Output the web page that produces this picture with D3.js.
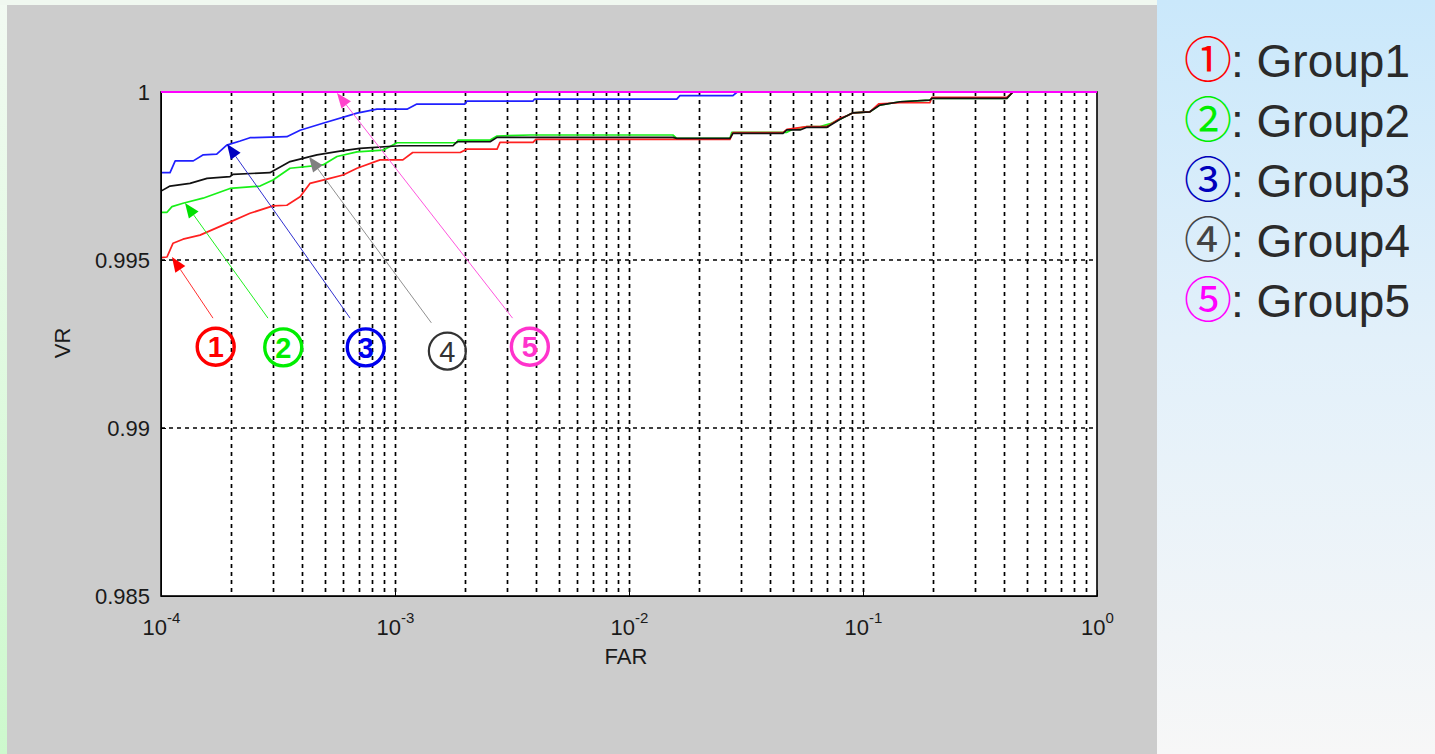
<!DOCTYPE html>
<html><head><meta charset="utf-8">
<script src="https://cdn.jsdelivr.net/npm/d3@7"></script>
<style>html,body{margin:0;padding:0;overflow:hidden;background:#eef9ec;} svg{display:block}</style>
</head><body><svg id="c" width="1435" height="754"></svg>
<script>
// ---------------- DATA ----------------
const groupNames = ["Group1","Group2","Group3","Group4","Group5"];
const circledDigits = ["①","②","③","④","⑤"];
const yTickValues = [0.985, 0.99, 0.995, 1];
const yTickLabels = ["0.985","0.99","0.995","1"];
const xDecades = [1e-4, 1e-3, 1e-2, 1e-1, 1];
const xExponents = ["-4","-3","-2","-1","0"];

// [FAR, VR]
const group1 = [[1e-4,0.99507],[1.061e-4,0.99509],[1.126e-4,0.9955],[1.242e-4,0.99562],[1.468e-4,0.99574],[1.915e-4,0.99609],[2.40e-4,0.99639],[3.01e-4,0.99661],[3.45e-4,0.99663],[3.93e-4,0.99688],[4.33e-4,0.99728],[5.27e-4,0.99743],[6.0e-4,0.99753],[6.88e-4,0.99773],[8.63e-4,0.99798],[1.08e-3,0.99798],[1.19e-3,0.9982],[1.90e-3,0.9982],[2.03e-3,0.9983],[2.73e-3,0.9983],[2.81e-3,0.9985],[3.89e-3,0.9985],[4.0e-3,0.99859],[2.70e-2,0.99859],[2.78e-2,0.99879],[4.55e-2,0.99879],[4.73e-2,0.99889],[5.76e-2,0.99897],[7.02e-2,0.99897],[7.98e-2,0.99922],[8.6e-2,0.9993],[9.06e-2,0.99938],[0.107,0.99941],[0.117,0.99965],[0.144,0.99968],[0.193,0.99968],[0.197,0.99984],[0.412,0.99984],[0.437,1],[1,1]];
const group2 = [[1e-4,0.99642],[1.061e-4,0.99642],[1.114e-4,0.99659],[1.242e-4,0.99669],[1.512e-4,0.99684],[1.972e-4,0.99713],[2.65e-4,0.9972],[3.01e-4,0.99738],[3.56e-4,0.99773],[4.92e-4,0.99783],[5.65e-4,0.99808],[6.88e-4,0.99822],[8.89e-4,0.99827],[1.02e-3,0.99849],[1.84e-3,0.99849],[1.86e-3,0.99857],[2.55e-3,0.99857],[2.73e-3,0.99869],[3.78e-3,0.99872],[1.54e-2,0.99872],[1.6e-2,0.99862],[2.70e-2,0.99862],[2.75e-2,0.9988],[4.73e-2,0.9988],[5.0e-2,0.99889],[5.76e-2,0.99897],[6.55e-2,0.99897],[7.2e-2,0.99905],[7.98e-2,0.99919],[9.06e-2,0.99938],[0.107,0.99941],[0.118,0.99961],[0.144,0.99971],[0.193,0.99976],[0.197,0.99981],[0.412,0.99981],[0.437,1],[1,1]];
const group3 = [[1e-4,0.9976],[1.093e-4,0.9976],[1.15e-4,0.99795],[1.374e-4,0.99795],[1.516e-4,0.99813],[1.73e-4,0.99815],[1.91e-4,0.99842],[2.18e-4,0.99854],[2.4e-4,0.99864],[3.45e-4,0.99867],[3.93e-4,0.99886],[4.92e-4,0.99907],[6.88e-4,0.99937],[8.37e-4,0.99949],[1.125e-3,0.99949],[1.24e-3,0.99964],[1.99e-3,0.99964],[2.03e-3,0.99973],[3.89e-3,0.99973],[3.95e-3,0.99979],[1.60e-2,0.99979],[1.65e-2,0.99989],[2.78e-2,0.99989],[2.9e-2,1],[1,1]];
const group4 = [[1e-4,0.99705],[1.093e-4,0.9972],[1.33e-4,0.99728],[1.573e-4,0.99743],[1.972e-4,0.99748],[2.031e-4,0.99755],[2.92e-4,0.9976],[3.56e-4,0.99793],[4.64e-4,0.99813],[5.82e-4,0.99824],[7.08e-4,0.99832],[1.05e-3,0.9984],[1.77e-3,0.9984],[1.84e-3,0.99852],[2.55e-3,0.99852],[2.73e-3,0.99865],[1.54e-2,0.99865],[1.6e-2,0.99862],[2.70e-2,0.99862],[2.78e-2,0.99877],[4.55e-2,0.99877],[4.73e-2,0.99887],[5.38e-2,0.99887],[5.76e-2,0.99895],[7.02e-2,0.99895],[7.98e-2,0.99919],[9.06e-2,0.99938],[0.107,0.99941],[0.118,0.99961],[0.144,0.99971],[0.193,0.99976],[0.197,0.99981],[0.412,0.99981],[0.437,1],[1,1]];
const group5 = [[1e-4,1],[1,1]];

// annotation arrows: tail [FAR,VR] -> tip [FAR,VR]; circle centre [FAR,VR]
const arrowTails = [[1.668e-4,0.99327],[2.865e-4,0.99327],[6.43e-4,0.99327],[1.43e-3,0.99313],[3.18e-3,0.99327]];
const arrowTips  = [[1.114e-4,0.99509],[1.266e-4,0.9967],[1.915e-4,0.99845],[4.29e-4,0.99807],[5.65e-4,0.99997]];
const circleCenters = [[1.713e-4,0.99242],[3.33e-4,0.9924],[7.5e-4,0.9924],[1.674e-3,0.99229],[3.77e-3,0.99242]];

// ---------------- STYLE ----------------
const lineColors = ["#ff2020","#18f018","#2020ff","#111111","#ff00ff"];
const arrowLineColors = ["#ff3030","#20f020","#3030d0","#909090","#ff55dd"];
const arrowHeadColors = ["#ff0000","#00e000","#0000c0","#808080","#ff44cc"];
const annColors = ["#ff0000","#00ee00","#0000ee","#333333","#ff33cc"];
const legendColors = ["#ff0000","#00ee00","#0000bb","#444444","#ff00ff"];

const svg = d3.select("#c");
const defs = svg.append("defs");
const g1 = defs.append("linearGradient").attr("id","rp").attr("x1",0).attr("y1",0).attr("x2",0).attr("y2",1);
g1.append("stop").attr("offset","0%").attr("stop-color","#cae8fb");
g1.append("stop").attr("offset","45%").attr("stop-color","#e2f0fa");
g1.append("stop").attr("offset","100%").attr("stop-color","#f7f7f7");
const g2 = defs.append("linearGradient").attr("id","lp").attr("x1",0).attr("y1",0).attr("x2",0).attr("y2",1);
g2.append("stop").attr("offset","0%").attr("stop-color","#f2faf2");
g2.append("stop").attr("offset","100%").attr("stop-color","#cdf9cd");
defs.append("clipPath").attr("id","clip").append("rect").attr("x",161).attr("y",90).attr("width",937).attr("height",507);

svg.append("rect").attr("x",0).attr("y",0).attr("width",1435).attr("height",754).attr("fill","url(#lp)");
svg.append("rect").attr("x",0).attr("y",0).attr("width",1157).attr("height",5).attr("fill","#f0f8f0");
svg.append("rect").attr("x",7).attr("y",5).attr("width",1150).attr("height",749).attr("fill","#cccccc");
svg.append("rect").attr("x",1157).attr("y",0).attr("width",278).attr("height",754).attr("fill","url(#rp)");

const x = d3.scaleLog().domain([1e-4,1]).range([161,1097]);
const y = d3.scaleLinear().domain([0.985,1]).range([596,92]);

svg.append("rect").attr("x",161).attr("y",92).attr("width",936).attr("height",504).attr("fill","#fff");

// grid
const minorVals = [];
for (let e=-4; e<0; e++) for (let m=1; m<=9; m++) { const v = m*Math.pow(10,e); if (v>1e-4) minorVals.push(v); }
const grid = svg.append("g").attr("stroke","#000").attr("stroke-width",1.7).attr("stroke-dasharray","4,4");
grid.selectAll("line.v").data(minorVals).join("line").attr("class","v")
  .attr("x1",d=>Math.round(x(d))+0.5).attr("x2",d=>Math.round(x(d))+0.5).attr("y1",y(1)).attr("y2",y(0.985));
grid.selectAll("line.h").data([0.99,0.995]).join("line").attr("class","h")
  .attr("x1",x(1e-4)).attr("x2",x(1)).attr("y1",d=>y(d)).attr("y2",d=>y(d));

// lines
const line = d3.line().x(d=>x(d[0])).y(d=>y(d[1]));
const series = [group2, group1, group3, group4];
const seriesColors = [lineColors[1], lineColors[0], lineColors[2], lineColors[3]];
const lg = svg.append("g").attr("clip-path","url(#clip)");
series.forEach((s,i)=>{
  lg.append("path").datum(s).attr("d",line).attr("fill","none").attr("stroke",seriesColors[i]).attr("stroke-width",1.7).attr("stroke-linejoin","round");
});

// axes
const fontFam = "'Liberation Sans', Arial, sans-serif";
const yAxis = d3.axisLeft(y).tickValues(yTickValues).tickFormat((d,i)=>yTickLabels[i]).tickSize(-5).tickSizeOuter(0).tickPadding(11);
const ya = svg.append("g").attr("transform","translate(161,0)").call(yAxis);
ya.selectAll("text").attr("font-family",fontFam).attr("font-size",22).attr("fill","#1a1a1a");
ya.selectAll("line,path").attr("stroke","#000");

const xAxis = d3.axisBottom(x).tickValues(xDecades).tickFormat(()=> "10").tickSize(-6).tickSizeOuter(0).tickPadding(16);
const xa = svg.append("g").attr("transform","translate(0,596)").call(xAxis);
xa.selectAll("text").attr("font-family",fontFam).attr("font-size",22).attr("fill","#1a1a1a").attr("dy","1.05em")
  .append("tspan").attr("dy",-12).attr("font-size",15).text((d,i)=>xExponents[i]);
xa.selectAll("line,path").attr("stroke","#000");

// box
svg.append("rect").attr("x",161).attr("y",92).attr("width",936).attr("height",504).attr("fill","none").attr("stroke","#000").attr("stroke-width",1.6);

// group5 on top
svg.append("path").datum(group5).attr("d",line).attr("fill","none").attr("stroke",lineColors[4]).attr("stroke-width",2);

// axis titles
svg.append("text").attr("x",626).attr("y",664).attr("text-anchor","middle").attr("font-family",fontFam).attr("font-size",22).attr("fill","#1a1a1a").text("FAR");
svg.append("text").attr("transform","translate(70,343) rotate(-90)").attr("text-anchor","middle").attr("font-family",fontFam).attr("font-size",22).attr("fill","#1a1a1a").text("VR");

// annotations
const ann = svg.append("g");
arrowTips.forEach((tip,i)=>{
  const tx = x(tip[0]), ty = y(tip[1]);
  const sx = x(arrowTails[i][0]), sy = y(arrowTails[i][1]);
  const dx = tx-sx, dy = ty-sy, L = Math.hypot(dx,dy), ux = dx/L, uy = dy/L;
  const hl = 15, hw = 6;
  const bx = tx-ux*hl, by = ty-uy*hl;
  ann.append("line").attr("x1",sx).attr("y1",sy).attr("x2",bx).attr("y2",by).attr("stroke",arrowLineColors[i]).attr("stroke-width",1);
  ann.append("polygon").attr("points",[[tx,ty],[bx-uy*hw,by+ux*hw],[bx+uy*hw,by-ux*hw]].map(p=>p.join(",")).join(" ")).attr("fill",arrowHeadColors[i]);
});
circleCenters.forEach((c,i)=>{
  const cx = x(c[0]), cy = y(c[1]);
  ann.append("circle").attr("cx",cx).attr("cy",cy).attr("r",18.5).attr("fill","none").attr("stroke",annColors[i]).attr("stroke-width",i===3?2.2:3.4);
  ann.append("text").attr("x",cx).attr("y",cy+10.5).attr("text-anchor","middle").attr("font-family",fontFam)
    .attr("font-size",29).attr("font-weight",i===3?"normal":"bold").attr("fill",annColors[i]).text(String(i+1));
});

// legend: circled digit and label as separate texts
const leg = svg.append("g");
groupNames.forEach((n,i)=>{
  leg.append("text").attr("x",1184).attr("y",77+60*i).attr("font-size",48)
    .attr("font-family","'Liberation Sans','Noto Sans CJK SC', sans-serif").attr("fill",legendColors[i]).text(circledDigits[i]);
  leg.append("text").attr("x",1231).attr("y",77+60*i).attr("font-size",46).attr("font-family",fontFam)
    .attr("fill","#2a2a2a").text(": "+n);
});
</script>
</body></html>
